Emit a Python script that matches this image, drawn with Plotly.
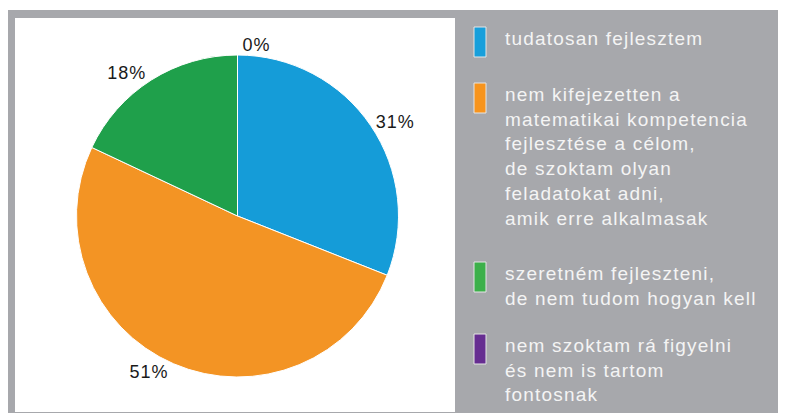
import plotly.graph_objects as go

# ---- data ----
categories = [
    "tudatosan fejlesztem",
    "nem kifejezetten a<br>matematikai kompetencia<br>fejlesztése a célom,<br>de szoktam olyan<br>feladatokat adni,<br>amik erre alkalmasak",
    "szeretném fejleszteni,<br>de nem tudom hogyan kell",
    "nem szoktam rá figyelni<br>és nem is tartom<br>fontosnak",
]
values = [31, 51, 18, 0]
slice_colors = ["#159cd8", "#f39424", "#1fa04b", "#5c2d8f"]
legend_colors = ["#179fdb", "#f7941d", "#3cb04a", "#662d91"]

# the page body adds an 8px margin, so the figure is offset by OFF in the window
OFF = 8
W, H = 786 - OFF, 413 - OFF
GREY = "#a7a8ac"

def px(x):
    return (x - OFF) / W

def py(y):
    return 1 - (y - OFF) / H

fig = go.Figure()

cx, cy, r = 237.5, 216, 161
fig.add_trace(go.Pie(
    labels=[c.replace("<br>", " ") for c in categories],
    values=values,
    sort=False,
    direction="clockwise",
    rotation=0,
    marker=dict(colors=slice_colors, line=dict(color="white", width=1)),
    textinfo="percent",
    texttemplate="<span style='letter-spacing:1px'>%{percent:.0%}</span>",
    textposition="outside",
    outsidetextfont=dict(family="Liberation Sans, Arial, sans-serif", size=18, color="#1a1a1a"),
    showlegend=False,
    hoverinfo="label+percent",
    domain=dict(x=[px(cx - r), px(cx + r)], y=[py(cy + r), py(cy - r)]),
))

shapes = [
    dict(type="rect", xref="paper", yref="paper", layer="below",
         x0=px(8), x1=px(786), y0=py(413), y1=py(10),
         fillcolor=GREY, line=dict(width=0)),
    dict(type="rect", xref="paper", yref="paper", layer="below",
         x0=px(15), x1=px(455), y0=py(412), y1=py(18),
         fillcolor="white", line=dict(width=0)),
]

annotations = []
swatch_tops = [27, 83, 262, 334]
for cat, col, top in zip(categories, legend_colors, swatch_tops):
    shapes.append(dict(type="rect", xref="paper", yref="paper",
                       x0=px(474), x1=px(486), y0=py(top + 30), y1=py(top),
                       fillcolor=col, line=dict(color="#e6e6e6", width=1)))
    annotations.append(dict(
        xref="paper", yref="paper", x=px(503), y=py(top - 1),
        xanchor="left", yanchor="top", align="left", showarrow=False,
        text="<span style='letter-spacing:1.2px'>" + cat.replace("<br>", "</span><br><span style='letter-spacing:1.2px'>") + "</span>",
        font=dict(family="Liberation Sans, Arial, sans-serif", size=19, color="#f4f4f4"),
    ))

fig.update_layout(
    width=W, height=H,
    margin=dict(l=0, r=0, t=0, b=0),
    paper_bgcolor="white",
    plot_bgcolor="white",
    shapes=shapes,
    annotations=annotations,
)

fig.write_html("out.html")
